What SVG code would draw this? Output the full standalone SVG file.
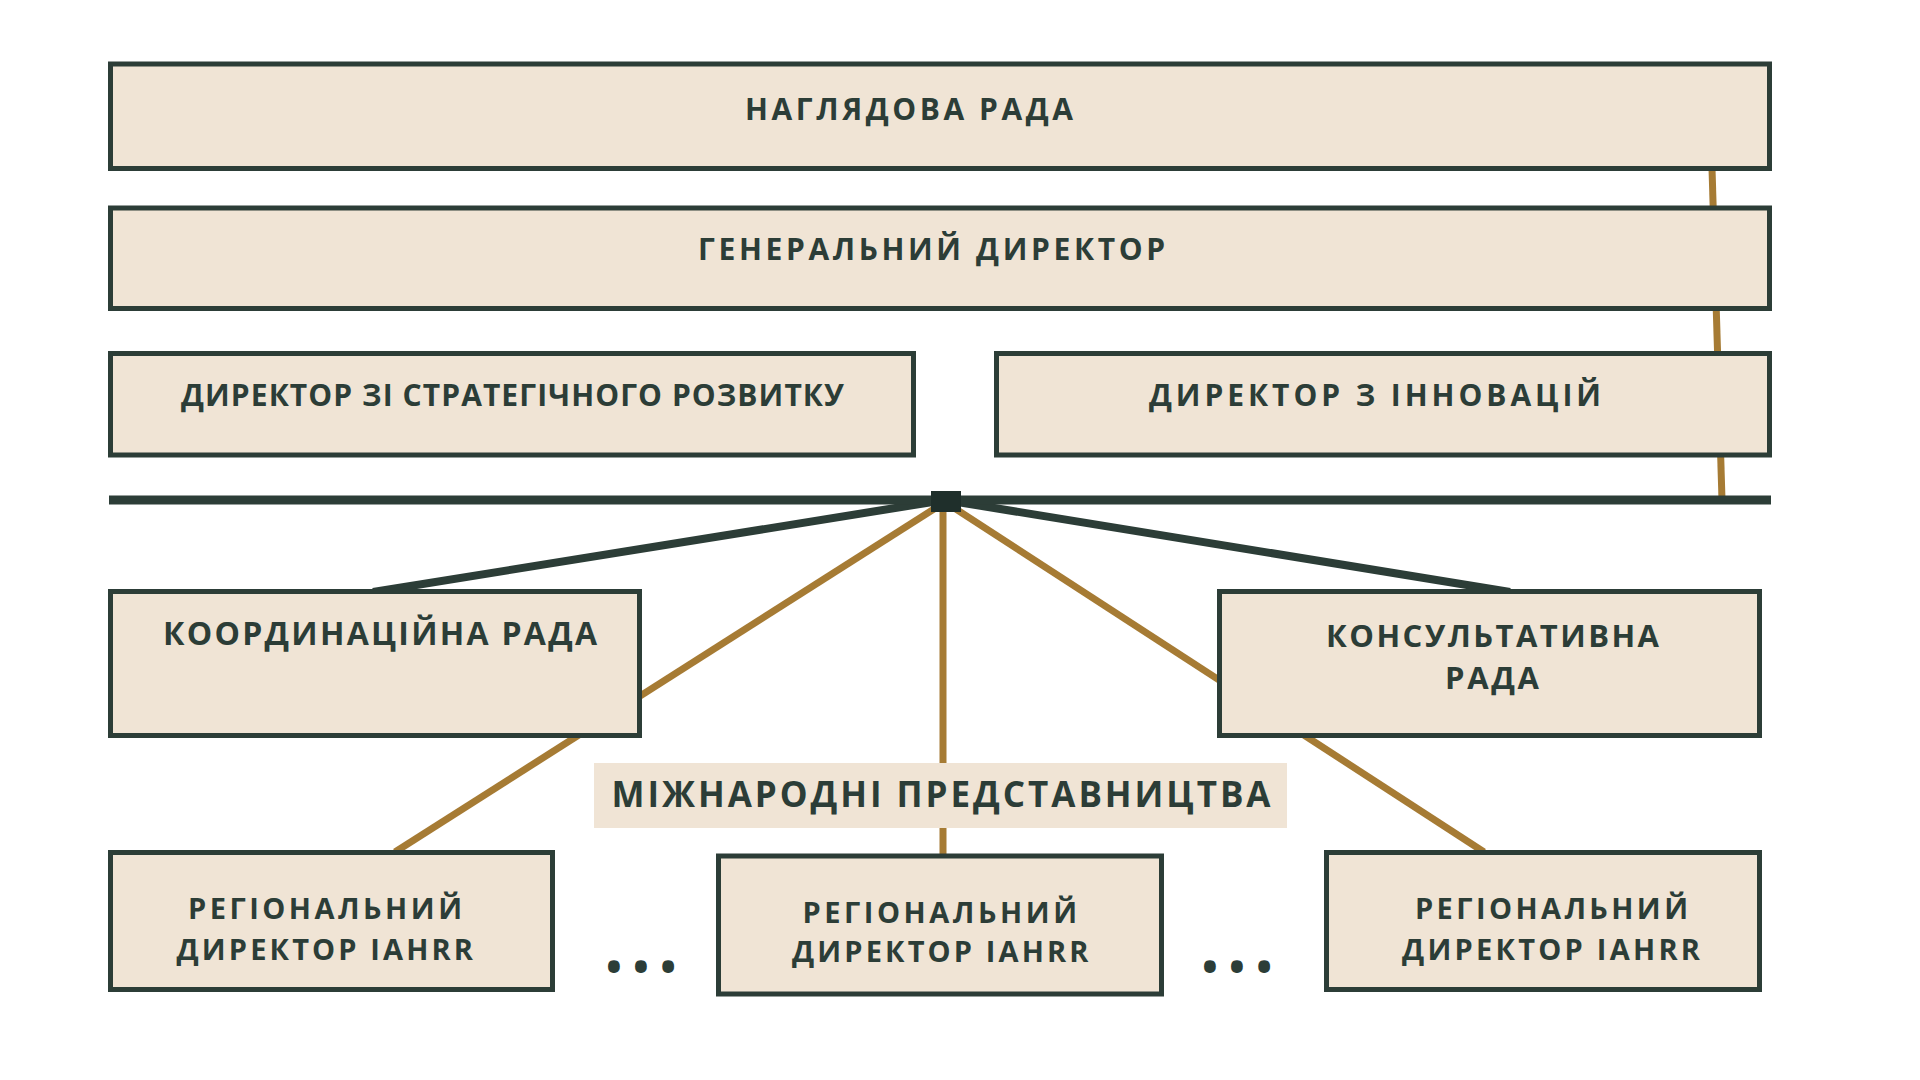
<svg xmlns="http://www.w3.org/2000/svg" width="1920" height="1080" viewBox="0 0 1920 1080">
  <style>
    .box { fill: #f0e4d5; stroke: #2c3d37; stroke-width: 5; }
    .lbl { fill: #2c3d37; font-family: "Open Sans", "Noto Sans", "DejaVu Sans", sans-serif; font-weight: 700; }
    .gold { stroke: #a67b34; stroke-width: 7; fill: none; }
    .dark { stroke: #2c3d37; stroke-width: 8; fill: none; }
  </style>
  <rect width="1920" height="1080" fill="#ffffff"/>
  <g id="connectors">
    <line class="gold" x1="1712" y1="168" x2="1722" y2="500"/>
    <line class="gold" x1="945" y1="502" x2="395" y2="852"/>
    <line class="gold" x1="943" y1="502" x2="943" y2="856"/>
    <line class="gold" x1="945" y1="502" x2="1484" y2="852"/>
    <line class="dark" x1="945" y1="500" x2="373" y2="592"/>
    <line class="dark" x1="945" y1="500" x2="1510" y2="592"/>
    <line x1="109" y1="500" x2="1771" y2="500" stroke="#2c3d37" stroke-width="9"/>
    <rect x="931" y="491" width="30" height="21" fill="#1f2f2b"/>
  </g>
  <g id="supervisory-board">
    <rect class="box" x="110.5" y="64" width="1659" height="104.5"/>
    <text class="lbl" x="745" y="120" font-size="30" textLength="328" lengthAdjust="spacing">НАГЛЯДОВА РАДА</text>
  </g>
  <g id="general-director">
    <rect class="box" x="110.5" y="208" width="1659" height="100.5"/>
    <text class="lbl" x="698" y="260" font-size="30" textLength="467" lengthAdjust="spacing">ГЕНЕРАЛЬНИЙ ДИРЕКТОР</text>
  </g>
  <g id="strategy-director">
    <rect class="box" x="110.5" y="353.5" width="803" height="101.5"/>
    <text class="lbl" x="181" y="406" font-size="30" textLength="663" lengthAdjust="spacing">ДИРЕКТОР ЗІ СТРАТЕГІЧНОГО РОЗВИТКУ</text>
  </g>
  <g id="innovation-director">
    <rect class="box" x="996.5" y="353.5" width="773" height="101.5"/>
    <text class="lbl" x="1149" y="406" font-size="30" textLength="452" lengthAdjust="spacing">ДИРЕКТОР З ІННОВАЦІЙ</text>
  </g>
  <g id="coordination-council">
    <rect class="box" x="110.5" y="591.5" width="529" height="144"/>
    <text class="lbl" x="163" y="645" font-size="32" textLength="434" lengthAdjust="spacing">КООРДИНАЦІЙНА РАДА</text>
  </g>
  <g id="advisory-council">
    <rect class="box" x="1219.5" y="591.5" width="540" height="144"/>
    <text class="lbl" x="1326" y="647" font-size="31" textLength="333" lengthAdjust="spacing">КОНСУЛЬТАТИВНА</text>
    <text class="lbl" x="1445" y="689" font-size="31" textLength="94" lengthAdjust="spacing">РАДА</text>
  </g>
  <g id="international-offices">
    <rect x="594" y="763" width="693" height="65" fill="#f0e4d5"/>
    <text class="lbl" x="611.5" y="806.5" font-size="35" textLength="659" lengthAdjust="spacing">МІЖНАРОДНІ ПРЕДСТАВНИЦТВА</text>
  </g>
  <g id="regional-director-1">
    <rect class="box" x="110.5" y="852.5" width="442" height="137"/>
    <text class="lbl" x="188" y="919" font-size="29" textLength="274" lengthAdjust="spacing">РЕГІОНАЛЬНИЙ</text>
    <text class="lbl" x="176.5" y="960" font-size="29" textLength="296.5" lengthAdjust="spacing">ДИРЕКТОР IAHRR</text>
  </g>
  <g id="regional-director-2">
    <rect class="box" x="718.5" y="856" width="443" height="138"/>
    <text class="lbl" x="802.5" y="922.5" font-size="29" textLength="274.5" lengthAdjust="spacing">РЕГІОНАЛЬНИЙ</text>
    <text class="lbl" x="792" y="962" font-size="29" textLength="296.5" lengthAdjust="spacing">ДИРЕКТОР IAHRR</text>
  </g>
  <g id="regional-director-3">
    <rect class="box" x="1326.5" y="852.5" width="433" height="137"/>
    <text class="lbl" x="1415" y="919" font-size="29" textLength="273" lengthAdjust="spacing">РЕГІОНАЛЬНИЙ</text>
    <text class="lbl" x="1402" y="960" font-size="29" textLength="298" lengthAdjust="spacing">ДИРЕКТОР IAHRR</text>
  </g>
  <g id="ellipses">
    <text class="lbl" x="606" y="982" font-size="42" textLength="70" lengthAdjust="spacing">•••</text>
    <text class="lbl" x="1202" y="982" font-size="42" textLength="70" lengthAdjust="spacing">•••</text>
  </g>
</svg>
